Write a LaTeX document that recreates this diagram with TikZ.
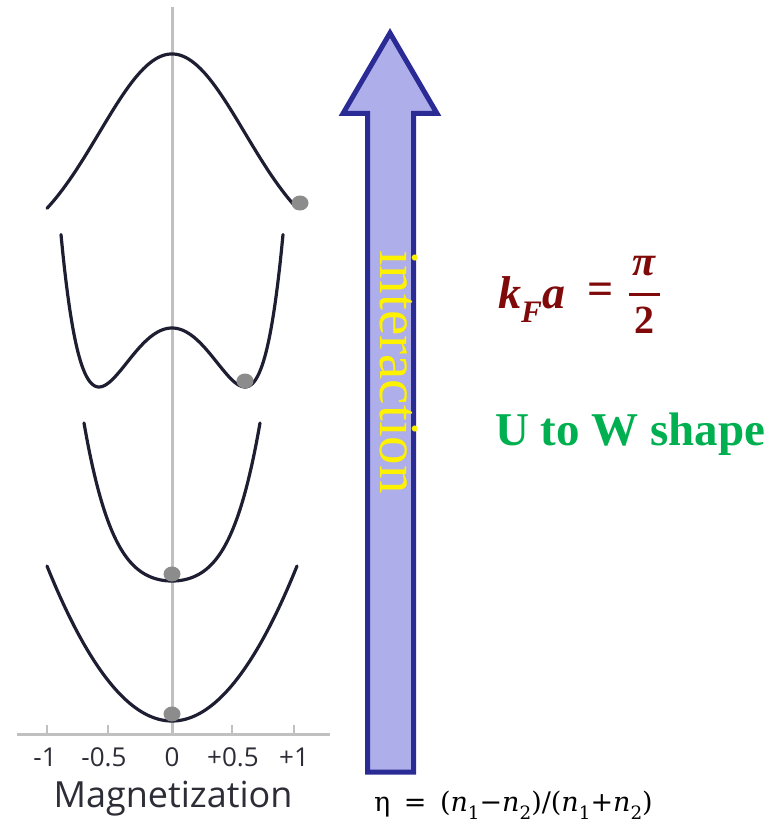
\documentclass[tikz,border=0pt]{standalone}
\usepackage{graphicx}
\usepackage{fontspec}
\setmainfont{Liberation Serif}
\newfontfamily\sansf{Open Sans}
\newfontfamily\serf{Liberation Serif}
\newfontfamily\dvserif{DejaVu Serif}
\newcommand\mysubx[1]{\raisebox{-0.32em}{\scalebox{0.68}{#1}}}
\definecolor{curvecol}{RGB}{30,30,50}
\definecolor{ballcol}{RGB}{140,140,140}
\definecolor{axiscol}{RGB}{192,192,192}
\definecolor{arrowborder}{RGB}{43,43,150}
\definecolor{arrowfill}{RGB}{173,174,234}
\definecolor{redtext}{RGB}{128,10,10}
\definecolor{greentext}{RGB}{0,176,80}
\definecolor{labelcol}{RGB}{45,45,55}
\tikzset{
  curve/.style={line width=3.2pt, draw=curvecol, line cap=round, line join=round},
  ballfill/.style={fill=ballcol},
  axisline/.style={line width=3pt, draw=axiscol},
  tickline/.style={line width=1.8pt, draw=axiscol},
  ticklabel/.style={font=\sansf\fontsize{26}{26}\selectfont, text=labelcol, inner sep=0pt},
  bigarrow/.style={line width=5pt, draw=arrowborder, fill=arrowfill, line join=miter, miter limit=10},
  redmath/.style={inner sep=0pt, text=redtext, font=\serf\bfseries\fontsize{46}{46}\selectfont},
}
\begin{document}
\begin{tikzpicture}[x=1pt,y=-1pt]
\useasboundingbox (0,0) rectangle (778,824);
% axes
\draw[axisline] (172,7) -- (172,734);
\draw[axisline] (17,734) -- (330,734);
\foreach \tx in {47,108,172,232,294} \draw[tickline] (\tx,725) -- (\tx,734);
\node[ticklabel] (t1) at (45,757) {-1};
\node[ticklabel] (t2) at (104,757) {-0.5};
\node[ticklabel] (t3) at (172,757) {0};
\node[ticklabel] (t4) at (233,757) {+0.5};
\node[ticklabel] (t5) at (294,757) {+1};
\node[font=\sansf\fontsize{36}{36}\selectfont, text=labelcol, inner sep=0pt] (mag) at (173,799) {Magnetization};
% curve 1 : inverted bell
\draw[curve] plot[domain=-125:125, samples=120, smooth] ({172+\x},{54+200*(1-exp(-(\x*\x)/10580))});
% curve 2 : W
\draw[curve] plot[domain=-111:111, samples=140, smooth] ({172+\x},{328+105.2*(\x/73)^2-33.42*(\x/73)^4-12.79*(\x/73)^6});
% curve 3 : flat U
\draw[curve] plot[domain=-88:88, samples=120, smooth] ({172+\x},{581-158*(0.4*(\x/88)^2+0.6*(\x/88)^4)});
% curve 4 : parabola
\draw[curve] plot[domain=-125:125, samples=100, smooth] ({172+\x},{721-155*(\x/125)^2});
% balls
\fill[ballfill] (300,203) ellipse [x radius=8.5, y radius=7.5];
\fill[ballfill] (245,381) ellipse [x radius=8.5, y radius=7.5];
\fill[ballfill] (172,574) ellipse [x radius=8.5, y radius=7.5];
\fill[ballfill] (172,714) ellipse [x radius=8.5, y radius=7.5];
% big arrow
\draw[bigarrow] (390,33) -- (437,113.5) -- (413.5,113.5) -- (413.5,772) -- (367.5,772) -- (367.5,113.5) -- (343,113.5) -- cycle;
\node[rotate=-90, anchor=base, inner sep=0pt, text=yellow, font=\serf\fontsize{57}{57}\selectfont] (inter) at (380,372) {interaction};
% right texts
\node[redmath, anchor=base west, font=\serf\bfseries\itshape\fontsize{46}{46}\selectfont] (kf) at (498,308) {k\mysubx{F}a};
\node[redmath, anchor=center] (eq) at (601,294) {=};
\node[redmath, anchor=base, font=\serf\bfseries\itshape\fontsize{42}{42}\selectfont] (pinum) at (644,275) {π};
\node[redmath, anchor=base, font=\serf\bfseries\fontsize{40}{40}\selectfont] (twoden) at (644,333) {2};
\draw[draw=redtext, line width=3pt] (629,294) -- (660,294);
\node[anchor=base west, inner sep=0pt, text=greentext, font=\serf\bfseries\fontsize{47}{47}\selectfont] (uw) at (495,445) {U to W shape};
\node[anchor=base west, inner sep=0pt, font=\dvserif\fontsize{27}{27}\selectfont] (eta) at (374,811) {η\enspace=\enspace(\textit{n}\mysubx{1}−\textit{n}\mysubx{2})/(\textit{n}\mysubx{1}+\textit{n}\mysubx{2})};
\end{tikzpicture}
\end{document}
